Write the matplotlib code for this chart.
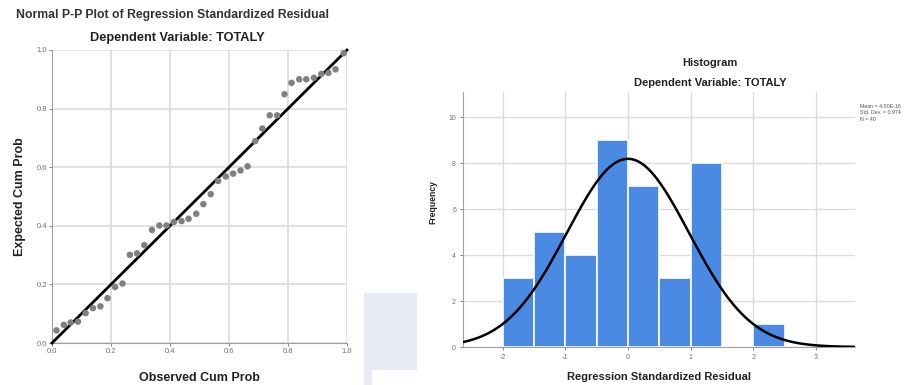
import numpy as np
import matplotlib
matplotlib.use('Agg')
import matplotlib.pyplot as plt
from matplotlib.patches import Rectangle

plt.rcParams['font.family'] = ['Liberation Sans', 'DejaVu Sans']
plt.rcParams['axes.unicode_minus'] = False

# P-P plot values (observed vs expected cumulative probability)
observed_cum = [0.015, 0.040, 0.063, 0.088, 0.114, 0.139, 0.164, 0.188, 0.214, 0.239,
                0.264, 0.288, 0.313, 0.339, 0.364, 0.388, 0.413, 0.439, 0.463, 0.489,
                0.513, 0.538, 0.563, 0.589, 0.614, 0.639, 0.663, 0.689, 0.713, 0.738,
                0.763, 0.788, 0.812, 0.838, 0.862, 0.888, 0.913, 0.937, 0.961, 0.989]
expected_cum = [0.043, 0.062, 0.070, 0.073, 0.102, 0.119, 0.125, 0.153, 0.191, 0.203,
                0.301, 0.306, 0.334, 0.386, 0.401, 0.401, 0.413, 0.416, 0.424, 0.441,
                0.474, 0.508, 0.553, 0.568, 0.578, 0.589, 0.603, 0.689, 0.732, 0.777,
                0.777, 0.849, 0.888, 0.900, 0.900, 0.905, 0.918, 0.922, 0.934, 0.989]
pp_ticks = [0.0, 0.2, 0.4, 0.6, 0.8, 1.0]

# Histogram values
bin_edges = [-2.0, -1.5, -1.0, -0.5, 0.0, 0.5, 1.0, 1.5, 2.0, 2.5]
counts = [3, 5, 4, 9, 7, 3, 8, 0, 1]
hist_xticks = [-2, -1, 0, 1, 2, 3]
hist_yticks = [0, 2, 4, 6, 8, 10]
res_mean = 4.00e-16
res_std = 0.974
n_obs = 40

grid_c = '#dcdcdc'
spine_c = '#a0a0a0'
tick_c = '#707070'
text_c = '#222222'

fig = plt.figure(figsize=(9.18, 3.85), dpi=100)

# page artifact in the middle
fig.patches.append(Rectangle((364 / 918, 0), 53 / 918, 92 / 385, transform=fig.transFigure,
                             facecolor='#e7ebf4', edgecolor='none', zorder=0))
fig.patches.append(Rectangle((372 / 918, 0), 45 / 918, 15 / 385, transform=fig.transFigure,
                             facecolor='white', edgecolor='none', zorder=0))

# ---- P-P plot ----
ax1 = fig.add_axes([52 / 918, 1 - 343 / 385, 295 / 918, 293 / 385])
ax1.set_xlim(0, 1)
ax1.set_ylim(0, 1)
ax1.set_xticks(pp_ticks)
ax1.set_yticks(pp_ticks)
ax1.set_xticklabels(['%.1f' % t for t in pp_ticks])
ax1.set_yticklabels(['%.1f' % t for t in pp_ticks])
ax1.grid(True, color=grid_c, linewidth=1.2)
ax1.set_axisbelow(True)
ax1.plot([0, 1], [0, 1], color='black', linewidth=2, zorder=3, clip_on=False)
ax1.scatter(observed_cum, expected_cum, s=22, color='#808080', edgecolors='none', zorder=4)
for s in ['top', 'right']:
    ax1.spines[s].set_visible(False)
for s in ['left', 'bottom']:
    ax1.spines[s].set_color(spine_c)
ax1.tick_params(labelsize=5.5, colors=tick_c, length=2, width=0.6, pad=1.5)
ax1.set_xlabel('Observed Cum Prob', fontsize=9, fontweight='bold', color=text_c, labelpad=12)
ax1.set_ylabel('Expected Cum Prob', fontsize=9, fontweight='bold', color=text_c, labelpad=8)
fig.text(173 / 918, 1 - 15 / 385, 'Normal P-P Plot of Regression Standardized Residual',
         ha='center', va='center', fontsize=8.8, fontweight='bold', color='#333333')
fig.text(177 / 918, 1 - 38 / 385, 'Dependent Variable: TOTALY',
         ha='center', va='center', fontsize=9.2, fontweight='bold', color=text_c)

# ---- Histogram ----
ax2 = fig.add_axes([463 / 918, 1 - 347 / 385, 392 / 918, 255 / 385])
lefts = bin_edges[:-1]
widths = np.diff(bin_edges)
ax2.bar(lefts, counts, width=widths, align='edge', color='#4a8ae2',
        edgecolor='white', linewidth=1.2, zorder=2)
xs = np.linspace(-2.63, 3.62, 300)
bw = bin_edges[1] - bin_edges[0]
curve = n_obs * bw / (res_std * np.sqrt(2 * np.pi)) * np.exp(-0.5 * ((xs - res_mean) / res_std) ** 2)
ax2.plot(xs, curve, color='black', linewidth=1.8, zorder=3)
ax2.set_xlim(-2.63, 3.62)
ax2.set_ylim(0, 11.1)
ax2.set_xticks(hist_xticks)
ax2.set_yticks(hist_yticks)
ax2.grid(True, color=grid_c, linewidth=1.0)
ax2.set_axisbelow(True)
for s in ['top', 'right']:
    ax2.spines[s].set_visible(False)
for s in ['left', 'bottom']:
    ax2.spines[s].set_color(spine_c)
ax2.tick_params(labelsize=5, colors=tick_c, length=2, width=0.6, pad=3)
ax2.set_xlabel('Regression Standardized Residual', fontsize=8, fontweight='bold',
               color=text_c, labelpad=8)
ax2.set_ylabel('Frequency', fontsize=6.2, fontweight='bold', color=text_c)
ax2.yaxis.set_label_coords(-0.066, 0.57)
fig.text(710 / 918, 1 - 63 / 385, 'Histogram', ha='center', va='center',
         fontsize=8, fontweight='bold', color=text_c)
fig.text(710 / 918, 1 - 83 / 385, 'Dependent Variable: TOTALY', ha='center', va='center',
         fontsize=8, fontweight='bold', color=text_c)
fig.text(860 / 918, 1 - 113 / 385,
         'Mean = 4.00E-16\nStd. Dev. = %.3f\nN = %d' % (res_std, n_obs),
         ha='left', va='center', fontsize=3.8, color='#555555', linespacing=1.3)

fig.savefig('out.png', dpi=100)
